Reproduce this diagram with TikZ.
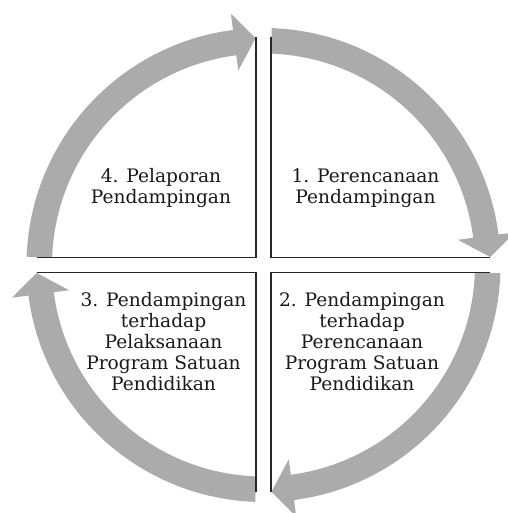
\documentclass[tikz,border=0pt]{standalone}
\usepackage{fontspec}
\setmainfont{DejaVu Serif}
\newlength{\du}
\setlength{\du}{1pt}
\tikzset{
  quadtext/.style={align=center, inner sep=0pt, text=textcolor,
    font=\fontsize{18.6}{21}\selectfont},
  quadline/.style={draw=dialinecolor, line width=1.8\du, line cap=butt},
}
\begin{document}
\begin{tikzpicture}
\definecolor{ringcolor}{rgb}{0.670000, 0.670000, 0.670000}
\definecolor{textcolor}{rgb}{0.100000, 0.100000, 0.100000}
\definecolor{dialinecolor}{rgb}{0.150000, 0.150000, 0.150000}
\useasboundingbox (-263.500000\du,-248.000000\du) rectangle (243.500000\du,265.000000\du);
% ring arrows, clockwise
\fill[ringcolor] (88:237\du) arc[start angle=88, end angle=7.4, radius=237\du]--(7.4:253.5\du)--(2:227\du)--(7.4:196\du)--(7.4:211.5\du) arc[start angle=7.4, end angle=88, radius=211.5\du]--cycle;
\fill[ringcolor] (-2:237\du) arc[start angle=-2, end angle=-82.6, radius=237\du]--(-82.6:253.5\du)--(-88:227\du)--(-82.6:196\du)--(-82.6:211.5\du) arc[start angle=-82.6, end angle=-2, radius=211.5\du]--cycle;
\fill[ringcolor] (-92:237\du) arc[start angle=-92, end angle=-172.6, radius=237\du]--(-172.6:253.5\du)--(-178:227\du)--(-172.6:196\du)--(-172.6:211.5\du) arc[start angle=-172.6, end angle=-92, radius=211.5\du]--cycle;
\fill[ringcolor] (178:237\du) arc[start angle=178, end angle=97.4, radius=237\du]--(97.4:253.5\du)--(92:227\du)--(97.4:196\du)--(97.4:211.5\du) arc[start angle=97.4, end angle=178, radius=211.5\du]--cycle;
% quadrant borders
\draw[quadline] (-7.500000\du,228.000000\du)--(-7.500000\du,7.500000\du)--(-226.500000\du,7.500000\du);
\draw[quadline] (7.500000\du,228.000000\du)--(7.500000\du,7.500000\du)--(226.500000\du,7.500000\du);
\draw[quadline] (7.500000\du,-227.000000\du)--(7.500000\du,-7.500000\du)--(226.500000\du,-7.500000\du);
\draw[quadline] (-7.500000\du,-227.000000\du)--(-7.500000\du,-7.500000\du)--(-226.500000\du,-7.500000\du);
% setfont left to latex
\node[quadtext] (perencanaan) at (102.000000\du,77.000000\du){1. Perencanaan\\Pendampingan};
% setfont left to latex
\node[quadtext] (pendampinganRencana) at (98.500000\du,-77.000000\du){2. Pendampingan\\terhadap\\Perencanaan\\Program Satuan\\Pendidikan};
% setfont left to latex
\node[quadtext] (pendampinganLaksana) at (-100.000000\du,-77.000000\du){3. Pendampingan\\terhadap\\Pelaksanaan\\Program Satuan\\Pendidikan};
% setfont left to latex
\node[quadtext] (pelaporan) at (-102.500000\du,77.000000\du){4. Pelaporan\\Pendampingan};
\end{tikzpicture}
\end{document}
